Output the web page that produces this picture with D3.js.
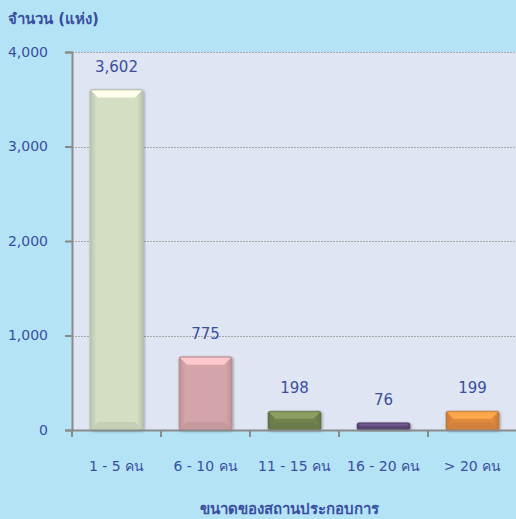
<!DOCTYPE html>
<html>
<head>
<meta charset="utf-8">
<script src="https://cdn.jsdelivr.net/npm/d3@7"></script>
<style>
  body { margin: 0; background: #b3e3f5; }
  text { font-family: "DejaVu Sans", Tahoma, sans-serif; fill: #3a4f9f; }
</style>
</head>
<body>
<div id="chart"></div>
<script>
// data
var categories = ["1 - 5 คน", "6 - 10 คน", "11 - 15 คน", "16 - 20 คน", "> 20 คน"];
var values = [3602, 775, 198, 76, 199];
var barColors = ["#d3dec3", "#d5a4a8", "#72834f", "#5d4a78", "#e08a3e"];
var yTicks = [0, 1000, 2000, 3000, 4000];

var width = 516, height = 519;
var margin = {top: 52, right: -1, bottom: 89, left: 72};

var svg = d3.select("#chart").append("svg")
    .attr("width", width)
    .attr("height", height);

svg.append("rect").attr("width", width).attr("height", height).attr("fill", "#b3e3f5");

var x = d3.scaleBand()
    .domain(categories)
    .range([margin.left, width - margin.right])
    .paddingInner(0)
    .paddingOuter(0);

var y = d3.scaleLinear()
    .domain([0, 4000])
    .range([height - margin.bottom, margin.top]);

// plot background
svg.append("rect")
    .attr("x", margin.left)
    .attr("y", y(4000))
    .attr("width", width - margin.left)
    .attr("height", y(0) - y(4000))
    .attr("fill", "#dfe5f2");

// dashed gridlines
svg.append("g").selectAll("line")
    .data(yTicks.filter(function (d) { return d > 0; }))
    .enter().append("line")
    .attr("x1", margin.left)
    .attr("x2", width)
    .attr("y1", function (d) { return Math.round(y(d)) + 0.5; })
    .attr("y2", function (d) { return Math.round(y(d)) + 0.5; })
    .attr("stroke", "#a8a8a8")
    .attr("stroke-dasharray", "2,1");

var defs = svg.append("defs");
var filt = defs.append("filter").attr("id", "shadow")
    .attr("x", "-20%").attr("y", "-20%").attr("width", "140%").attr("height", "140%");
filt.append("feDropShadow").attr("dx", 1).attr("dy", 1).attr("stdDeviation", 1.5)
    .attr("flood-color", "#000").attr("flood-opacity", 0.35);

barColors.forEach(function (c, i) {
    var g = defs.append("linearGradient").attr("id", "grad" + i)
        .attr("x1", "0").attr("x2", "1").attr("y1", "0").attr("y2", "0");
    var base = d3.color(c);
    g.append("stop").attr("offset", "0").attr("stop-color", base.darker(0.35));
    g.append("stop").attr("offset", "0.12").attr("stop-color", base);
    g.append("stop").attr("offset", "0.88").attr("stop-color", base);
    g.append("stop").attr("offset", "1").attr("stop-color", base.darker(0.35));
});

var barW = 53;
var bars = svg.append("g").selectAll("g")
    .data(values)
    .enter().append("g")
    .attr("filter", "url(#shadow)");

bars.each(function (d, i) {
    var g = d3.select(this);
    var cx = x(categories[i]) + x.bandwidth() / 2;
    var x0 = cx - barW / 2, x1 = cx + barW / 2;
    var y0 = y(d), y1 = y(0);
    var h = y1 - y0;
    var b = Math.min(8, h / 2.5);
    var base = d3.color(barColors[i]);

    g.append("rect")
        .attr("x", x0).attr("y", y0)
        .attr("width", barW).attr("height", h)
        .attr("rx", 2)
        .attr("fill", "url(#grad" + i + ")")
        .attr("stroke", base.darker(0.6))
        .attr("stroke-width", 0.6);

    // top bevel highlight
    g.append("path")
        .attr("d", "M" + (x0 + 1) + "," + (y0 + 1) + "L" + (x1 - 1) + "," + (y0 + 1) +
            "L" + (x1 - b) + "," + (y0 + b) + "L" + (x0 + b) + "," + (y0 + b) + "Z")
        .attr("fill", base.brighter(0.55));

    // bottom bevel shade
    g.append("path")
        .attr("d", "M" + (x0 + 1) + "," + (y1 - 1) + "L" + (x1 - 1) + "," + (y1 - 1) +
            "L" + (x1 - b) + "," + (y1 - b) + "L" + (x0 + b) + "," + (y1 - b) + "Z")
        .attr("fill", base.darker(0.2));
});

// value labels
svg.append("g").selectAll("text")
    .data(values)
    .enter().append("text")
    .attr("x", function (d, i) { return x(categories[i]) + x.bandwidth() / 2; })
    .attr("y", function (d) { return y(d) - 18; })
    .attr("text-anchor", "middle")
    .style("font-size", "15px")
    .text(function (d) { return d3.format(",")(d); });

// y axis
var yAxis = svg.append("g")
    .attr("transform", "translate(" + margin.left + ",0)")
    .call(d3.axisLeft(y).tickValues(yTicks).tickFormat(d3.format(",")).tickSizeOuter(0).tickSize(7).tickPadding(17));
yAxis.select(".domain").attr("stroke", "#8a8a8a").attr("stroke-width", 2);
yAxis.selectAll(".tick line").attr("stroke", "#8a8a8a").attr("stroke-width", 2);
yAxis.selectAll("text").style("font-size", "14px").attr("fill", "#3a4f9f");

// x axis
var xAxis = svg.append("g")
    .attr("transform", "translate(0," + y(0) + ")")
    .call(d3.axisBottom(x).tickSize(0).tickPadding(31));
xAxis.select(".domain").attr("stroke", "#8a8a8a").attr("stroke-width", 2);
xAxis.selectAll("text").style("font-size", "14px").attr("fill", "#3a4f9f")
    .style("font-family", "\"DejaVu Sans\", Tahoma, sans-serif");
xAxis.selectAll(".sep")
    .data(categories)
    .enter().append("line")
    .attr("class", "sep")
    .attr("x1", function (d) { return x(d); })
    .attr("x2", function (d) { return x(d); })
    .attr("y1", 0).attr("y2", 7)
    .attr("stroke", "#8a8a8a").attr("stroke-width", 2);
yAxis.selectAll("text").style("font-family", "\"DejaVu Sans\", Tahoma, sans-serif");

// titles
svg.append("text")
    .attr("x", 8).attr("y", 24)
    .style("font-size", "15px")
    .style("font-weight", "bold")
    .text("จำนวน (แห่ง)");

svg.append("text")
    .attr("x", 289).attr("y", 514)
    .attr("text-anchor", "middle")
    .style("font-size", "15px")
    .style("font-weight", "bold")
    .text("ขนาดของสถานประกอบการ");
</script>
</body>
</html>
